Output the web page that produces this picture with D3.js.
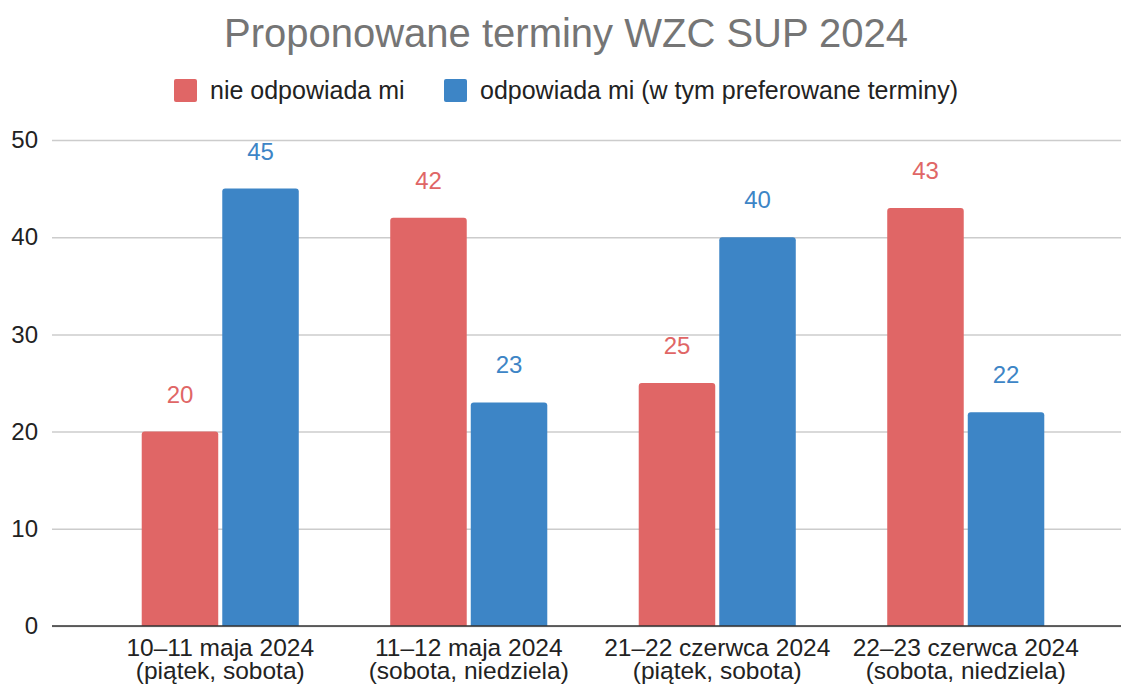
<!DOCTYPE html>
<html>
<head>
<meta charset="utf-8">
<script src="https://cdn.jsdelivr.net/npm/d3@7"></script>
<style>
  body { margin: 0; background: #fff; }
  text { font-family: "Liberation Sans", Arial, sans-serif; }
</style>
</head>
<body>
<div id="chart"></div>
<script>
// data
const categories = [
    ["10–11 maja 2024", "(piątek, sobota)"],
    ["11–12 maja 2024", "(sobota, niedziela)"],
    ["21–22 czerwca 2024", "(piątek, sobota)"],
    ["22–23 czerwca 2024", "(sobota, niedziela)"]
];
const seriesNames = ["nie odpowiada mi", "odpowiada mi (w tym preferowane terminy)"];
const notOk = [20, 42, 25, 43];
const ok = [45, 23, 40, 22];
const yTicks = [0, 10, 20, 30, 40, 50];

const colors = ["#e06666", "#3d85c6"];

const svgWidth = 1121;
const svgHeight = 684;

const svg = d3.select("#chart")
    .append("svg")
    .attr("width", svgWidth)
    .attr("height", svgHeight);

// scales
const xScale = d3.scaleBand()
    .domain(d3.range(categories.length))
    .range([96, 1090])
    .paddingInner(0.368)
    .paddingOuter(0.184);

const xInner = d3.scaleBand()
    .domain([0, 1])
    .range([0, xScale.bandwidth()])
    .paddingInner(0.05);

const yScale = d3.scaleLinear()
    .domain([0, 50])
    .range([626, 140]);

// title
svg.append("text")
    .attr("x", 566)
    .attr("y", 47)
    .attr("text-anchor", "middle")
    .attr("fill", "#757575")
    .style("font-size", "40px")
    .text("Proponowane terminy WZC SUP 2024");

// legend
const legendItems = [
    { x: 174, label: seriesNames[0], color: colors[0] },
    { x: 444, label: seriesNames[1], color: colors[1] }
];
const legend = svg.append("g");
legendItems.forEach(function (d) {
    legend.append("rect")
        .attr("x", d.x)
        .attr("y", 79)
        .attr("width", 23)
        .attr("height", 23)
        .attr("rx", 2)
        .attr("fill", d.color);
    legend.append("text")
        .attr("x", d.x + 36)
        .attr("y", 99)
        .attr("fill", "#222")
        .style("font-size", "25px")
        .text(d.label);
});

// gridlines + y axis labels
const yAxis = d3.axisLeft(yScale)
    .tickValues(yTicks)
    .tickSize(-(svgWidth - 52))
    .tickPadding(14);

const yAxisG = svg.append("g")
    .attr("transform", "translate(52,0)")
    .call(yAxis);
yAxisG.select(".domain").remove();
yAxisG.selectAll(".tick line")
    .attr("stroke", "#cccccc")
    .attr("stroke-width", 1.5);
yAxisG.selectAll(".tick text")
    .attr("fill", "#222")
    .style("font-size", "24px")
    .attr("x", -14);

// bars
const seriesData = [notOk, ok];
function barPath(x, y, w, h, r) {
    return `M${x},${y + h} L${x},${y + r} Q${x},${y} ${x + r},${y} L${x + w - r},${y} Q${x + w},${y} ${x + w},${y + r} L${x + w},${y + h} Z`;
}

seriesData.forEach(function (values, s) {
    const g = svg.append("g");
    g.selectAll("path")
        .data(values)
        .enter()
        .append("path")
        .attr("d", (d, i) => barPath(xScale(i) + xInner(s), yScale(d), xInner.bandwidth(), yScale(0) - yScale(d), 3))
        .attr("fill", colors[s]);

    g.selectAll("text")
        .data(values)
        .enter()
        .append("text")
        .attr("x", (d, i) => xScale(i) + xInner(s) + xInner.bandwidth() / 2)
        .attr("y", d => yScale(d) - 29)
        .attr("text-anchor", "middle")
        .attr("fill", colors[s])
        .style("font-size", "24px")
        .text(d => d);
});

// baseline
svg.append("line")
    .attr("x1", 52)
    .attr("x2", svgWidth)
    .attr("y1", yScale(0))
    .attr("y2", yScale(0))
    .attr("stroke", "#333")
    .attr("stroke-width", 1.5);

// x axis labels
const xLabels = svg.append("g");
categories.forEach(function (lines, i) {
    const t = xLabels.append("text")
        .attr("x", xScale(i) + xScale.bandwidth() / 2)
        .attr("y", 656)
        .attr("text-anchor", "middle")
        .attr("fill", "#222")
        .style("font-size", "24.5px");
    lines.forEach(function (line, k) {
        t.append("tspan")
            .attr("x", xScale(i) + xScale.bandwidth() / 2)
            .attr("dy", k === 0 ? 0 : 23)
            .text(line);
    });
});
</script>
</body>
</html>
